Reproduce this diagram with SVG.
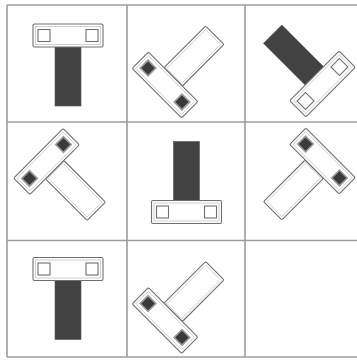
<svg xmlns="http://www.w3.org/2000/svg" xmlns:xlink="http://www.w3.org/1999/xlink" width="357" height="361" viewBox="0 0 357 361">
<style>
.grid{stroke:#9c9c9c;stroke-width:1.6;fill:none}
.bar{fill:#fff;stroke:#6e6e6e;stroke-width:1.1}
.inner{fill:none;stroke:#c4c4c4;stroke-width:0.8}
.sq{fill:#fff;stroke:#6e6e6e;stroke-width:1.1}
.dsq{fill:#3a3a3a;stroke:#9a9a9a;stroke-width:1.6}
.dstem{fill:#424242;stroke:#555;stroke-width:0.6}
.wstem{fill:#fff;stroke:#6e6e6e;stroke-width:1.1}
</style>
<defs>
<g id="tA">
<rect class="dstem" x="-13" y="11.5" width="26" height="59"/>
<rect class="bar" x="-35" y="-11.5" width="70" height="23" rx="1.5"/>
<rect class="inner" x="-32.5" y="-9" width="65" height="18"/>
<rect class="sq" x="-30" y="-6" width="12" height="12"/>
<rect class="sq" x="18" y="-6" width="12" height="12"/>
</g>
<g id="tB">
<rect class="wstem" x="-13" y="11.5" width="26" height="59" rx="1.5"/>
<rect class="inner" x="-10.5" y="13" width="21" height="55"/>
<rect class="bar" x="-35" y="-11.5" width="70" height="23" rx="1.5"/>
<rect class="inner" x="-32.5" y="-9" width="65" height="18"/>
<rect class="dsq" x="-29.5" y="-5.5" width="11" height="11"/>
<rect class="dsq" x="18.5" y="-5.5" width="11" height="11"/>
</g>
</defs>
<rect x="0" y="0" width="357" height="361" fill="#fff"/>
<g id="grid">
<line class="grid" x1="7" y1="5" x2="7" y2="357"/>
<line class="grid" x1="127" y1="5" x2="127" y2="357"/>
<line class="grid" x1="245" y1="5" x2="245" y2="357"/>
<line class="grid" x1="7" y1="5" x2="357" y2="5"/>
<line class="grid" x1="7" y1="122" x2="357" y2="122"/>
<line class="grid" x1="7" y1="240.5" x2="357" y2="240.5"/>
<line class="grid" x1="7" y1="357" x2="357" y2="357"/>
</g>
<g id="connectors"/>
<g id="cell-1-1"><use xlink:href="#tA" transform="translate(68,35.5)"/></g>
<g id="cell-1-2"><use xlink:href="#tB" transform="translate(165,85) rotate(-135)"/></g>
<g id="cell-1-3"><use xlink:href="#tA" transform="translate(322.5,84) rotate(135)"/></g>
<g id="cell-2-1"><use xlink:href="#tB" transform="translate(46.5,161.5) rotate(-45)"/></g>
<g id="cell-2-2"><use xlink:href="#tA" transform="translate(186.5,212) rotate(180)"/></g>
<g id="cell-2-3"><use xlink:href="#tB" transform="translate(322.5,161) rotate(45)"/></g>
<g id="cell-3-1"><use xlink:href="#tA" transform="translate(68,269)"/></g>
<g id="cell-3-2"><use xlink:href="#tB" transform="translate(165,320.5) rotate(-135)"/></g>
</svg>
